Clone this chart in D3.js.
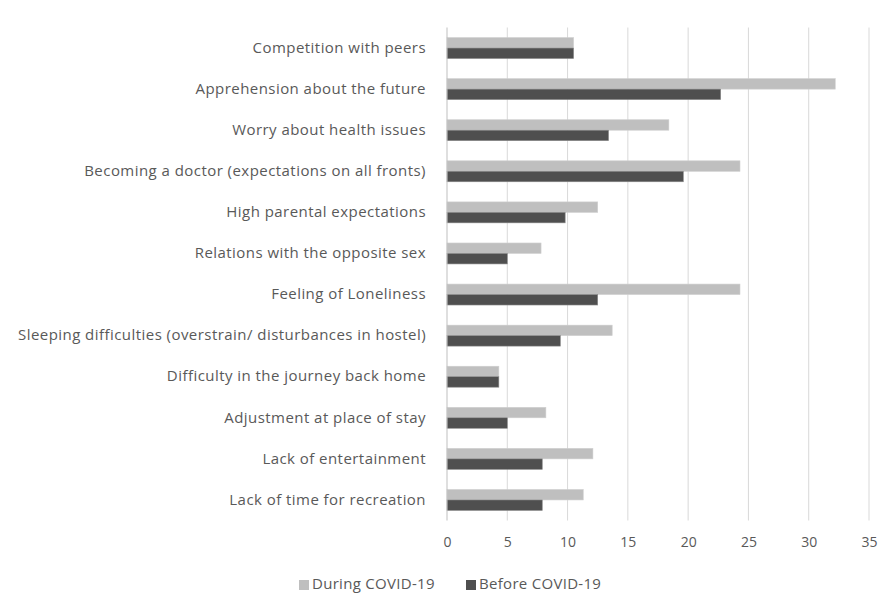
<!DOCTYPE html>
<html>
<head>
<meta charset="utf-8">
<script src="https://cdn.jsdelivr.net/npm/d3@7"></script>
<style>
  body { margin: 0; background: #fff; }
  svg text { font-family: "Open Sans", sans-serif; fill: #595959; }
</style>
</head>
<body>
<div id="main"></div>
<script>
var width = 889,
    height = 613;

// categories top to bottom
var categories = [
    "Competition with peers",
    "Apprehension about the future",
    "Worry about health issues",
    "Becoming a doctor (expectations on all fronts)",
    "High parental expectations",
    "Relations with the opposite sex",
    "Feeling of Loneliness",
    "Sleeping difficulties (overstrain/ disturbances in hostel)",
    "Difficulty in the journey back home",
    "Adjustment at place of stay",
    "Lack of entertainment",
    "Lack of time for recreation"
];

var during = [10.5, 32.2, 18.4, 24.3, 12.5, 7.8, 24.3, 13.7, 4.3, 8.2, 12.1, 11.3];
var before = [10.5, 22.7, 13.4, 19.6, 9.8, 5.0, 12.5, 9.4, 4.3, 5.0, 7.9, 7.9];

var xTicks = [0, 5, 10, 15, 20, 25, 30, 35];
var seriesNames = ["During COVID-19", "Before COVID-19"];
var colors = ["#bfbfbf", "#4f4f4f"];

var margin = {top: 27.5, left: 447, right: 20, bottom: 92.5};
var plotW = 869 - margin.left,
    plotH = height - margin.top - margin.bottom;

var svg = d3.select("#main").append("svg")
    .attr("width", width)
    .attr("height", height);

var x = d3.scaleLinear().domain([0, 35]).range([0, plotW]);
var y = d3.scaleBand().domain(categories).range([0, plotH]).paddingInner(0.49).paddingOuter(0.245);
var ySub = d3.scaleBand().domain([0, 1]).range([0, y.bandwidth()]);

var g = svg.append("g").attr("transform", `translate(${margin.left},${margin.top})`);

// gridlines
g.selectAll(".grid")
    .data(xTicks.slice(1))
    .enter().append("line")
    .attr("x1", function(d) { return x(d); })
    .attr("x2", function(d) { return x(d); })
    .attr("y1", 0)
    .attr("y2", plotH)
    .attr("stroke", "#d9d9d9")
    .attr("stroke-width", 1);

var rows = g.selectAll(".row")
    .data(categories)
    .enter().append("g")
    .attr("transform", function(d) { return `translate(0,${y(d)})`; });

rows.each(function(d, i) {
    var vals = [during[i], before[i]];
    d3.select(this).selectAll("rect")
        .data(vals)
        .enter().append("rect")
        .attr("x", 0)
        .attr("y", function(v, j) { return ySub(j); })
        .attr("height", ySub.bandwidth())
        .attr("width", function(v) { return x(v); })
        .attr("fill", function(v, j) { return colors[j]; })
        .attr("stroke", function(v, j) { return j ? "#8a8a8a" : "#cfcfcf"; })
        .attr("stroke-width", 0.6);
});

// vertical axis line
g.append("line")
    .attr("x1", 0).attr("x2", 0)
    .attr("y1", 0).attr("y2", plotH)
    .attr("stroke", "#bfbfbf");

// category labels
g.selectAll(".cat")
    .data(categories)
    .enter().append("text")
    .attr("x", -21)
    .attr("y", function(d) { return y(d) + y.bandwidth() / 2; })
    .attr("dy", "0.05em")
    .attr("text-anchor", "end")
    .attr("dominant-baseline", "middle")
    .style("font-size", "15px")
    .style("letter-spacing", "0.45px")
    .text(function(d) { return d; });

// x axis
var xAxis = d3.axisBottom(x).tickValues(xTicks).tickSize(0).tickPadding(17);
var ax = g.append("g")
    .attr("transform", `translate(0,${plotH})`)
    .call(xAxis);
ax.select(".domain").remove();
ax.selectAll("text")
    .style("font-size", "14px")
    .style("font-family", "Open Sans, sans-serif")
    .attr("fill", "#595959");

// legend
var legend = svg.append("g").attr("transform", "translate(0,585)");
var legendX = [299, 466];
seriesNames.forEach(function(name, i) {
    legend.append("rect")
        .attr("x", legendX[i])
        .attr("y", -5)
        .attr("width", 10)
        .attr("height", 10)
        .attr("fill", colors[i]);
    legend.append("text")
        .attr("x", legendX[i] + 13)
        .attr("y", 0)
        .attr("dominant-baseline", "middle")
        .style("font-size", "15px")
        .style("letter-spacing", "0.3px")
        .text(name);
});
</script>
</body>
</html>
